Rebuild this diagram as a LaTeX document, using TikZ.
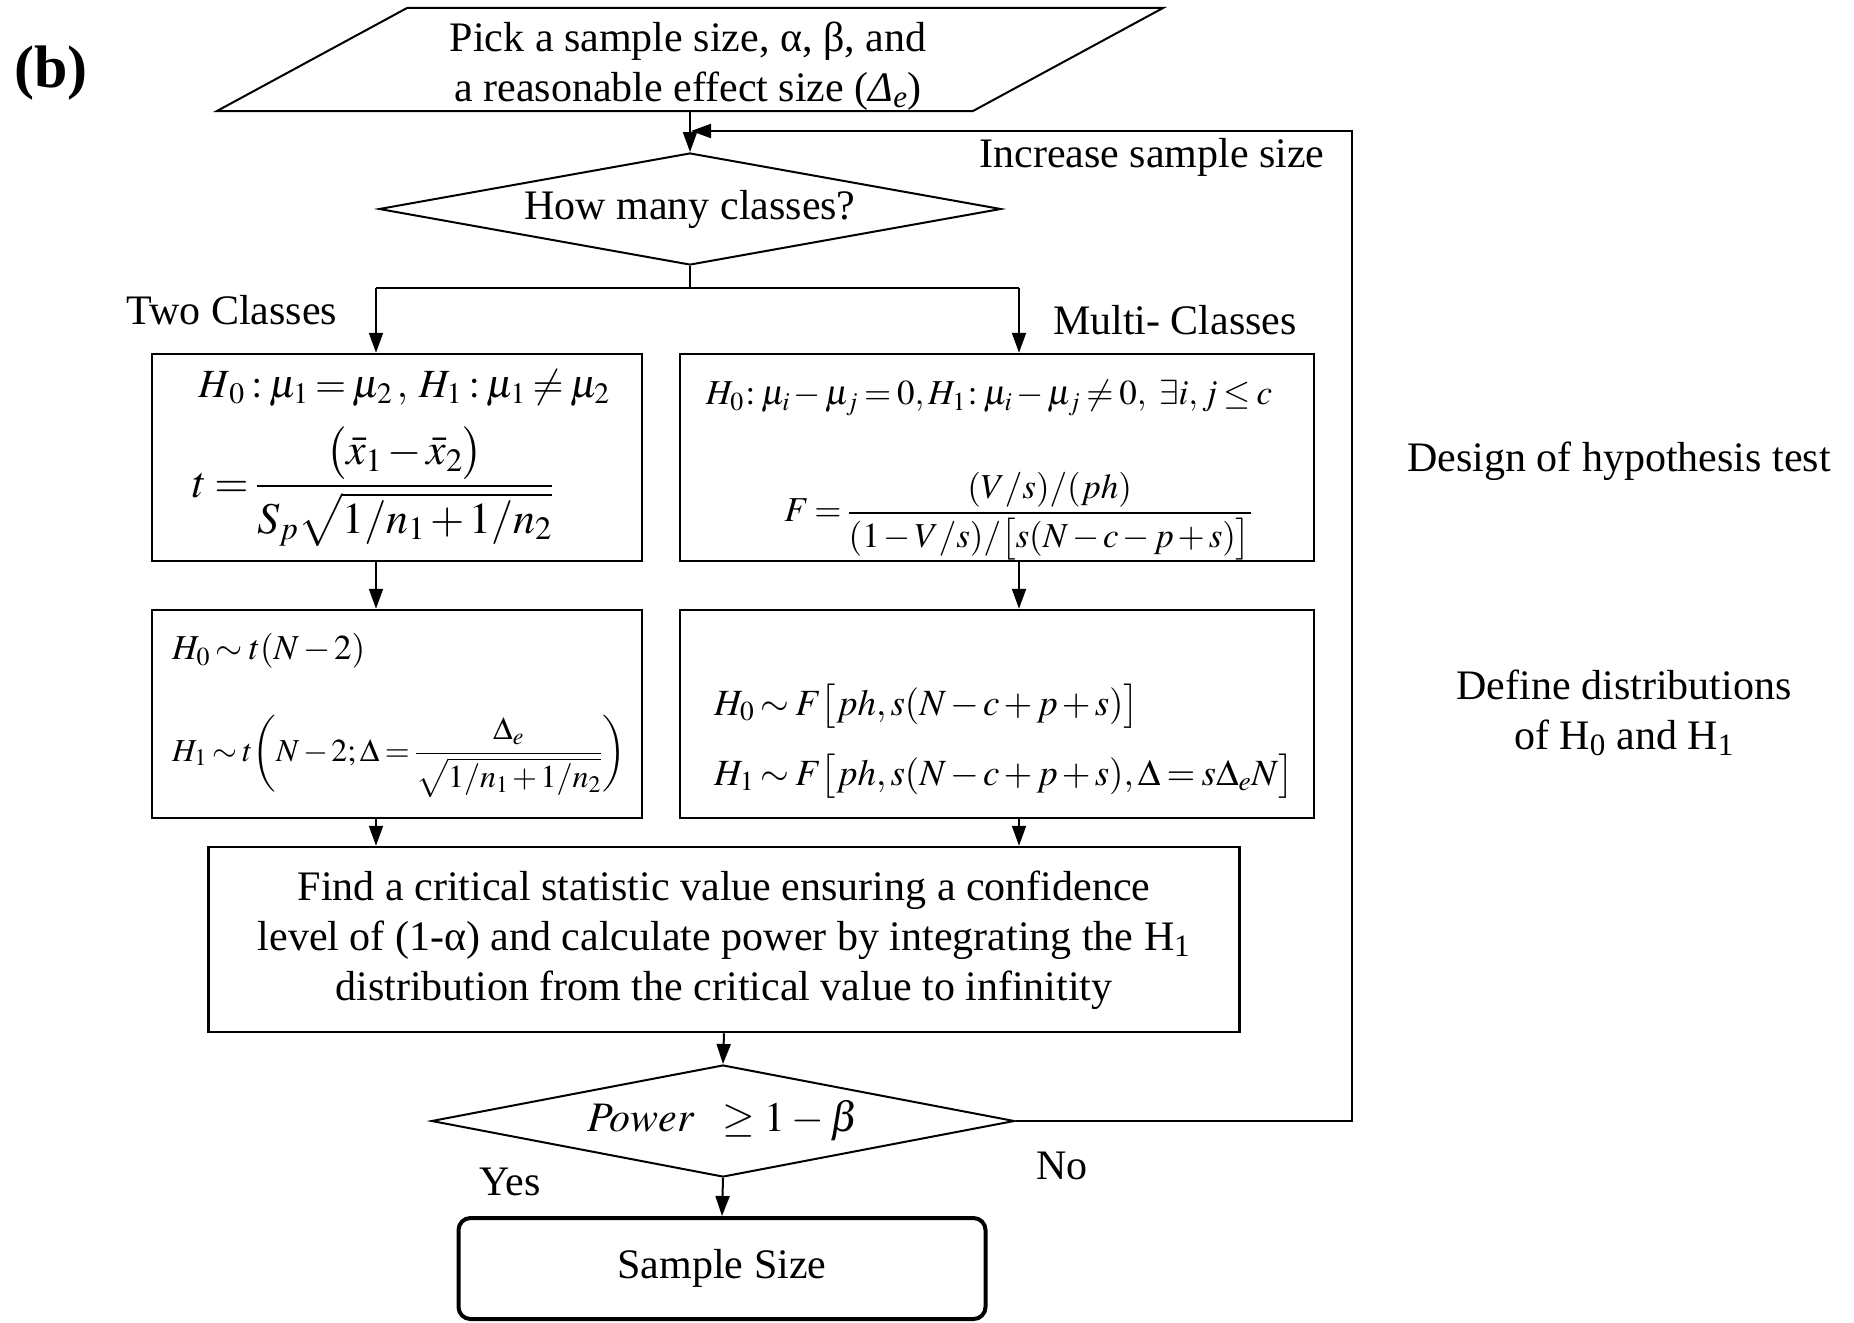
\documentclass[tikz,border=0pt]{standalone}
\usepackage{mathptmx}
\usepackage{amsmath}
\usepackage[no-math]{fontspec}
\setmainfont{Liberation Serif}
\usetikzlibrary{arrows.meta,shapes.geometric}
\newcommand{\tightmath}{\thickmuskip=3mu plus 1mu\medmuskip=2mu plus 1mu\thinmuskip=2mu}
\tikzset{
  txt/.style={font=\fontsize{42}{52}\selectfont, inner sep=0pt},
  mth/.style={font=\fontsize{#1}{#1}\selectfont\tightmath, inner sep=0pt},
  ln/.style={line width=2pt},
  arr/.style={line width=2pt, -{Triangle[length=20pt,width=14pt]}},
  boxx/.style={draw, line width=2.5pt, inner sep=0pt},
  dia/.style={draw, diamond, line width=2pt, inner sep=0pt, font=\fontsize{42}{52}\selectfont},
}
\begin{document}
\begin{tikzpicture}[x=1pt,y=-1pt]
\useasboundingbox (0,0) rectangle (1854,1322);
% label
\node[font=\bfseries\fontsize{60}{70}\selectfont, inner sep=0pt] (blabel) at (51,73) {(b)};
% input parallelogram
\draw[ln] (217,111) -- (973,111) -- (1163,8) -- (407,8) -- cycle;
\node[txt, align=center] (pick) at (688,66) {Pick a sample size, α, β, and\\[-2pt] a reasonable effect size (\textit{Δ}\textsubscript{\textit{e}})};
\coordinate (pickbot) at (690,111);
% decision 1
\node[dia, aspect=5.55, minimum width=622pt, minimum height=112pt] (q1) at (690,209) {How many classes?};
\draw[arr] (pickbot) -- (q1.north);
% split
\coordinate (split) at (690,288);
\coordinate (sl) at (376,288);
\coordinate (sr) at (1019,288);
\draw[ln] (q1.south) -- (split);
\draw[ln] (sl) -- (sr);
% boxes
\node[boxx, minimum width=490pt, minimum height=207pt] (L1) at (397,457.5) {};
\node[boxx, minimum width=634pt, minimum height=207pt] (R1) at (997,457.5) {};
\node[boxx, minimum width=490pt, minimum height=208pt] (L2) at (397,714) {};
\node[boxx, minimum width=634pt, minimum height=208pt] (R2) at (997,714) {};
\node[boxx, minimum width=1031pt, minimum height=185pt] (big) at (724,939.5) {};
\node[dia, aspect=5.2, minimum width=583pt, minimum height=112pt] (q2) at (723,1121) {$\mathit{Power}\;\;\geq 1-\beta$};
\node[draw, line width=4pt, rounded corners=12pt, minimum width=527pt, minimum height=101pt, txt] (res) at (722,1268.5) {Sample Size};
% box contents
\node[mth=40] (L1a) at (404,388) {$H_{\,0}:\mu_1=\mu_2\,,\;H_1:\mu_1\neq\mu_2$};
\node[mth=44] (L1b) at (373,487) {$t=\dfrac{\bigl(\bar{x}_1-\bar{x}_2\bigr)}{S_p\sqrt{1/n_1+1/n_2}}$};
\node[mth=35] (R1a) at (989,398) {$H_0\!:\mu_i-\mu_j=0, H_1\!:\mu_i-\mu_j\neq0,\ \exists i,j\le c$};
\node[mth=35] (R1b) at (1018,516) {$F=\dfrac{(V/s)/(ph)}{(1-V/s)/\bigl[s(N-c-p+s)\bigr]}$};
\node[mth=35, anchor=west] (L2a) at (172,651) {$H_0\sim t(N-2)$};
\node[mth=32, anchor=west] (L2b) at (172,756) {$H_1\sim t\biggl(N-2;\Delta=\dfrac{\Delta_e}{\sqrt{1/n_1+1/n_2}}\biggr)$};
\node[mth=37, anchor=west] (R2a) at (714,706) {$H_0\sim F\bigl[ph,s(N-c+p+s)\bigr]$};
\node[mth=37, anchor=west] (R2b) at (714,776) {$H_1\sim F\bigl[ph,s(N-c+p+s),\Delta=s\Delta_eN\bigr]$};
\node[txt, align=center] (bigt) at (724,940) {Find a critical statistic value ensuring a confidence\\[-2pt] level of (1-α) and calculate power by integrating the H\textsubscript{1}\\[-2pt] distribution from the critical value to infinitity};
% connectors
\draw[arr] (sl) -- (sl |- L1.north);
\draw[arr] (sr) -- (sr |- R1.north);
\draw[arr] (sl |- L1.south) -- (sl |- L2.north);
\draw[arr] (sr |- R1.south) -- (sr |- R2.north);
\draw[arr] (sl |- L2.south) -- (sl |- big.north);
\draw[arr] (sr |- R2.south) -- (sr |- big.north);
\draw[arr] (big.south) -- (q2.north);
\draw[arr] (q2.south) -- (res.north);
\coordinate (loopin) at (691,131);
\draw[arr] (q2.east) -- ++(336,0) |- (loopin);
% labels
\node[txt] (inc) at (1152,157) {Increase sample size};
\node[txt] (two) at (232,310) {Two Classes};
\node[txt] (multi) at (1175,320) {Multi- Classes};
\node[txt] (design) at (1619,461) {Design of hypothesis test};
\node[txt, align=center] (defd) at (1624,713) {Define distributions\\[-2pt] of H\textsubscript{0} and H\textsubscript{1}};
\node[txt] (yes) at (510,1182) {Yes};
\node[txt] (no) at (1062,1166) {No};
\end{tikzpicture}
\end{document}
